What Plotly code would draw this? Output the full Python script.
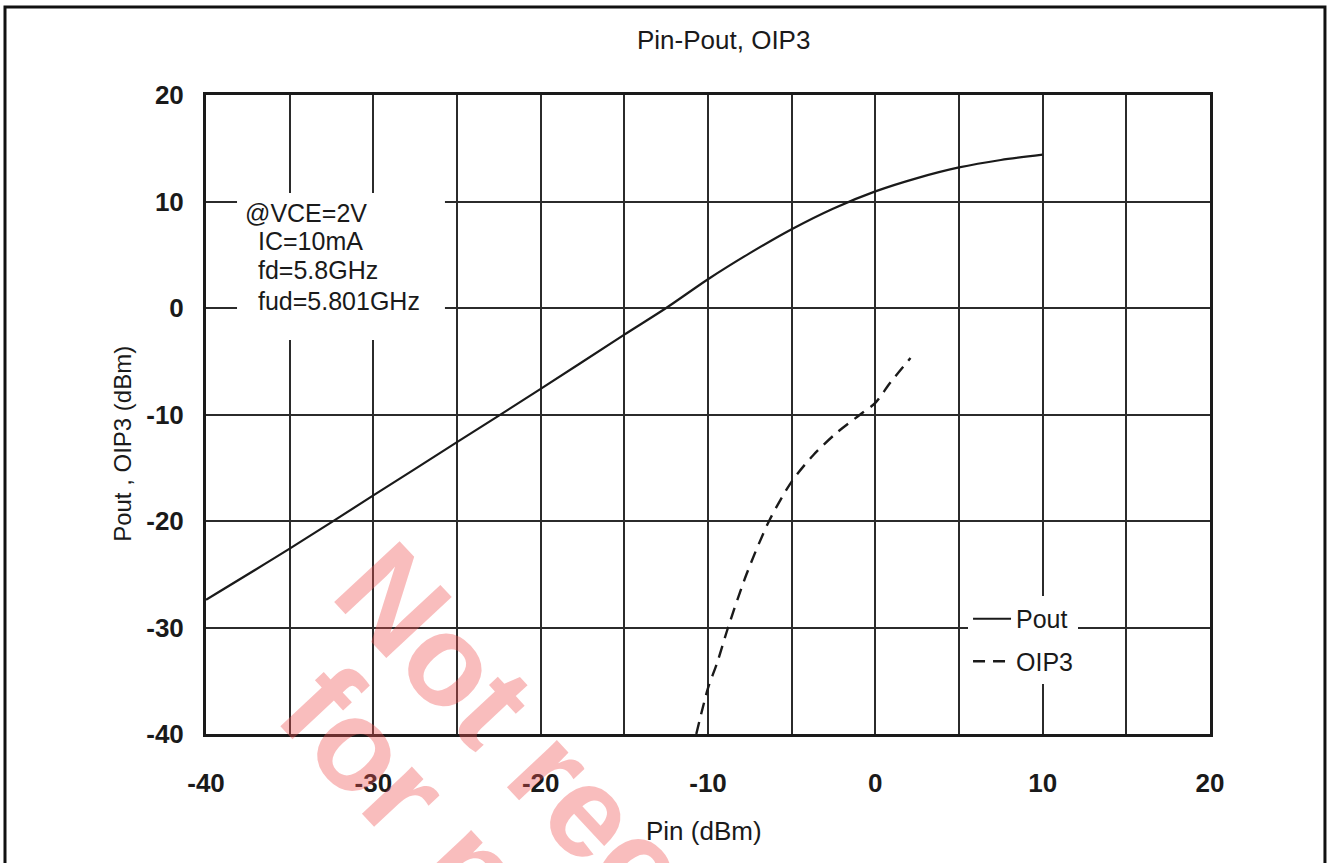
import plotly.graph_objects as go

# ---- data ----
pin_pout = [-40, -35, -30, -25, -20, -15, -12.5, -10, -7.5, -5, -2.5, 0, 2.5, 5, 7.5, 10]
pout = [-27.4, -22.6, -17.6, -12.6, -7.6, -2.5, 0.0, 2.7, 5.15, 7.4, 9.35, 10.95, 12.2, 13.2, 13.9, 14.4]

pin_oip3 = [-10.7, -10.0, -9.45, -8.8, -7.7, -6.35, -5.0, -3.7, -2.3, -0.9, 0.0, 0.9, 2.1]
oip3 = [-40.0, -35.7, -33.3, -30.0, -25.0, -20.0, -16.3, -13.8, -11.7, -10.0, -8.9, -7.0, -4.7]

x_ticks = [-40, -30, -20, -10, 0, 10, 20]
y_ticks = [-40, -30, -20, -10, 0, 10, 20]
x_tick_labels = ["-40", "-30", "-20", "-10", "0", "10", "20"]
y_tick_labels = ["-40", "-30", "-20", "-10", "0", "10", "20"]

title_text = "Pin-Pout, OIP3"
x_title = "Pin (dBm)"
y_title = "Pout , OIP3 (dBm)"
cond_lines = ["@VCE=2V", "IC=10mA", "fd=5.8GHz", "fud=5.801GHz"]
watermark_lines = ["Not recommended", "for new design"]

FONT = "Liberation Sans, Arial, Helvetica, sans-serif"
GRID = "#2b2b2b"
INK = "#1a1a1a"

fig = go.Figure()
fig.add_trace(go.Scatter(
    x=pin_pout, y=pout, name="Pout", mode="lines",
    line=dict(color=INK, width=2.2, shape="spline", smoothing=0.8),
    legendgroup="a",
))
fig.add_trace(go.Scatter(
    x=pin_oip3, y=oip3, name="OIP3", mode="lines",
    line=dict(color=INK, width=2.4, dash="12px,8px", shape="spline", smoothing=0.8),
    legendgroup="b",
))

axis_common = dict(
    showline=True, linecolor=INK, linewidth=3, mirror=True,
    showgrid=True, gridcolor=GRID, gridwidth=1.5,
    zeroline=False, ticks="", ticklen=0,
    tickfont=dict(family=FONT, size=26, color=INK, weight="bold"),
)

fig.update_xaxes(
    range=[-40, 20], tickvals=x_ticks, ticktext=x_tick_labels, ticklabelstandoff=24,
    minor=dict(dtick=5, tick0=-40, showgrid=True, gridcolor=GRID, gridwidth=1.5, ticklen=0),
    **axis_common,
)
fig.update_yaxes(
    range=[-40, 20], tickvals=y_ticks, ticktext=y_tick_labels, ticklabelstandoff=14,
    **axis_common,
)

annotations = []
annotations.append(dict(text=title_text, xref="paper", yref="paper", x=0.515, y=1.086,
                        xanchor="center", yanchor="middle", showarrow=False,
                        font=dict(family=FONT, size=26, color=INK)))
annotations.append(dict(text=x_title, xref="paper", yref="paper", x=0.496, y=-0.152,
                        xanchor="center", yanchor="middle", showarrow=False,
                        font=dict(family=FONT, size=26, color=INK)))
annotations.append(dict(text=y_title, xref="paper", yref="paper", x=-0.0827, y=0.454,
                        xanchor="center", yanchor="middle", showarrow=False, textangle=-90,
                        font=dict(family=FONT, size=24, color=INK)))
cond_x = [0.0369, 0.0498, 0.0498, 0.0498]
cond_y = [0.8153, 0.7715, 0.7261, 0.6776]
for t, cx, cy in zip(cond_lines, cond_x, cond_y):
    annotations.append(dict(text=t, xref="paper", yref="paper", x=cx, y=cy,
                            xanchor="left", yanchor="middle", showarrow=False,
                            font=dict(family=FONT, size=25, color=INK)))
wm_pos = [(0.542, -0.388), (0.410, -0.451)]
for t, (wx, wy) in zip(watermark_lines, wm_pos):
    annotations.append(dict(text=t, xref="paper", yref="paper", x=wx, y=wy,
                            xanchor="center", yanchor="middle", showarrow=False, textangle=47,
                            font=dict(family=FONT, size=130, color="rgba(239,82,82,0.38)",
                                      weight="bold")))

shapes = [
    dict(type="rect", xref="paper", yref="paper", x0=0.0309, x1=0.238, y0=0.6166, y1=0.8466,
         fillcolor="white", line=dict(width=0), layer="above"),
    dict(type="rect", xref="paper", yref="paper", x0=-0.2002, x1=1.1145, y0=-0.3, y1=1.1377,
         fillcolor="rgba(0,0,0,0)", line=dict(color="#111111", width=3), layer="above"),
]

fig.update_layout(
    width=1330, height=863, autosize=False,
    margin=dict(l=206, r=120, t=95, b=129),
    paper_bgcolor="white", plot_bgcolor="white",
    annotations=annotations, shapes=shapes,
    showlegend=True,
    legend=dict(x=0.759, y=0.216, xanchor="left", yanchor="top",
                bgcolor="white", borderwidth=0,
                font=dict(family=FONT, size=25, color=INK),
                traceorder="grouped", tracegroupgap=7, itemwidth=38),
)

fig.write_html("out.html",
               config={"displayModeBar": False},
               post_script="document.body.style.margin='0';document.body.style.overflow='hidden';")
